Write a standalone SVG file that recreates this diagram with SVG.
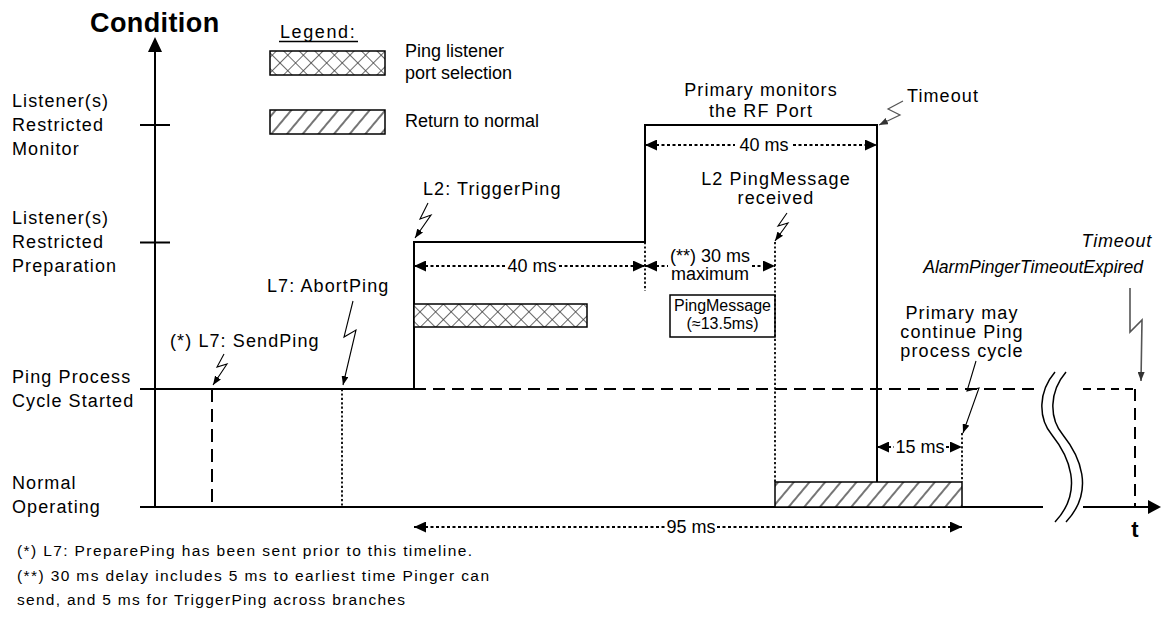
<svg xmlns="http://www.w3.org/2000/svg" width="1161" height="618" viewBox="0 0 1161 618">
<style>
text{font-family:"Liberation Sans",Arial,sans-serif;fill:#000}
.lbl{font-size:18px;letter-spacing:1.1px}
.dim{font-size:18px}
.leg{font-size:18px}
.box{font-size:16px}
.note{font-family:"Liberation Sans",Arial,sans-serif;font-size:15.5px}
.it{font-style:italic}
.solid{fill:none;stroke:#000;stroke-width:2}
.dash{fill:none;stroke:#000;stroke-width:2;stroke-dasharray:12 7}
.dot{fill:none;stroke:#000;stroke-width:1.8;stroke-dasharray:2.2 2.2}
.dimln{fill:none;stroke:#000;stroke-width:1.8;stroke-dasharray:3 2.5}
.bolt{fill:none;stroke:#000;stroke-width:1.1;stroke-linejoin:miter}
.gbolt{fill:none;stroke:#555;stroke-width:1.2}
</style>
<defs>
<marker id="ah" viewBox="0 0 12 11" refX="12" refY="5.5" markerWidth="12" markerHeight="11" markerUnits="userSpaceOnUse" orient="auto-start-reverse"><path d="M0,0 L12,5.5 L0,11 z" fill="#000"/></marker>
<marker id="ba" viewBox="0 0 9 7" refX="9" refY="3.5" markerWidth="9" markerHeight="7" markerUnits="userSpaceOnUse" orient="auto"><path d="M0,0 L9,3.5 L0,7 z" fill="#000"/></marker>
<marker id="bg" viewBox="0 0 9 7" refX="9" refY="3.5" markerWidth="9" markerHeight="7" markerUnits="userSpaceOnUse" orient="auto"><path d="M0,0 L9,3.5 L0,7 z" fill="#333"/></marker>
<pattern id="xh" patternUnits="userSpaceOnUse" width="11" height="11" patternTransform="rotate(45)"><rect width="11" height="11" fill="#fff"/><path d="M0,0 H11 M0,0 V11" stroke="#3a3a3a" stroke-width="1.5"/></pattern>
<pattern id="dh" patternUnits="userSpaceOnUse" width="12" height="12" patternTransform="rotate(40)"><rect width="12" height="12" fill="#fff"/><path d="M6,0 V12" stroke="#3a3a3a" stroke-width="1.4"/></pattern>
</defs>

<g id="axes">
<line x1="155" y1="50" x2="155" y2="507" class="solid"/>
<polygon points="148,52 155,37 162,52" fill="#000"/>
<line x1="140" y1="125" x2="170" y2="125" class="solid"/>
<line x1="140" y1="242.5" x2="170" y2="242.5" class="solid"/>
<line x1="140" y1="507" x2="1043" y2="507" class="solid"/>
<line x1="1083" y1="507" x2="1150" y2="507" class="solid"/>
<polygon points="1148,500 1161,507 1148,514" fill="#000"/>
<text x="90" y="32" style="font-size:27px;font-weight:bold;letter-spacing:0.4px">Condition</text>
<text x="1135" y="537" text-anchor="middle" style="font-size:22px;font-weight:bold">t</text>
</g>

<g id="y-labels" class="lbl">
<text x="12" y="107">Listener(s)</text>
<text x="12" y="131">Restricted</text>
<text x="12" y="155">Monitor</text>
<text x="12" y="224">Listener(s)</text>
<text x="12" y="248">Restricted</text>
<text x="12" y="272">Preparation</text>
<text x="12" y="383">Ping Process</text>
<text x="12" y="407">Cycle Started</text>
<text x="12" y="489">Normal</text>
<text x="12" y="513">Operating</text>
</g>

<g id="legend">
<text x="280" y="38" style="font-size:18px;letter-spacing:1.6px">Legend:</text>
<line x1="279" y1="41.5" x2="358" y2="41.5" stroke="#000" stroke-width="1.3"/>
<rect x="270" y="51" width="115" height="24" fill="url(#xh)" stroke="#000" stroke-width="1.5"/>
<rect x="270" y="110" width="115" height="24" fill="url(#dh)" stroke="#000" stroke-width="1.5"/>
<text class="leg" x="405" y="57">Ping listener</text>
<text class="leg" x="405" y="79">port selection</text>
<text class="leg" x="405" y="127">Return to normal</text>
</g>

<g id="condition-trace">
<path d="M140,389 H414 V242 H645 V125 H877 V483" class="solid"/>
<line x1="414" y1="389" x2="1040" y2="389" class="dash"/>
<line x1="1083" y1="389" x2="1135" y2="389" class="dash" style="stroke-dasharray:8 6"/>
<line x1="1135" y1="389" x2="1135" y2="507" class="dash"/>
</g>

<g id="bars">
<rect id="port-selection-bar" x="414" y="304" width="173" height="23" fill="url(#xh)" stroke="#000" stroke-width="1.5"/>
<rect id="return-normal-bar" x="775" y="482" width="187" height="25" fill="url(#dh)" stroke="#000" stroke-width="1.5"/>
</g>

<g id="ping-message-box">
<rect x="670" y="295" width="105" height="42" fill="#fff" stroke="#000" stroke-width="1.5"/>
<text class="box" x="722.5" y="311" text-anchor="middle">PingMessage</text>
<text class="box" x="722.5" y="329" text-anchor="middle">(≈13.5ms)</text>
</g>

<g id="connectors">
<line x1="212" y1="389" x2="212" y2="503" class="dash" style="stroke-dasharray:13 7"/>
<line x1="342" y1="389" x2="342" y2="507" class="dot"/>
<line x1="645" y1="242" x2="645" y2="291" class="dot"/>
<line x1="775" y1="242" x2="775" y2="482" class="dot"/>
<line x1="962" y1="433" x2="962" y2="482" class="dot"/>
<line x1="645" y1="145" x2="735" y2="145" class="dimln" marker-start="url(#ah)"/>
<line x1="793" y1="145" x2="877" y2="145" class="dimln" marker-end="url(#ah)"/>
<line x1="414" y1="266" x2="505" y2="266" class="dimln" marker-start="url(#ah)"/>
<line x1="559" y1="266" x2="645" y2="266" class="dimln" marker-end="url(#ah)"/>
<line x1="645" y1="266" x2="668" y2="266" class="dimln" marker-start="url(#ah)"/>
<line x1="752" y1="266" x2="775" y2="266" class="dimln" marker-end="url(#ah)"/>
<line x1="877" y1="447" x2="894" y2="447" class="dimln" marker-start="url(#ah)"/>
<line x1="946" y1="447" x2="962" y2="447" class="dimln" marker-end="url(#ah)"/>
<line x1="414" y1="527" x2="665" y2="527" class="dimln" marker-start="url(#ah)"/>
<line x1="717" y1="527" x2="962" y2="527" class="dimln" marker-end="url(#ah)"/>
<path d="M224,354 L217,367 L227,364 L213,385" class="bolt" marker-end="url(#ba)"/>
<path d="M353,301 L344,337 L356,330 L343,385" class="bolt" marker-end="url(#ba)"/>
<path d="M428,203 L420,219 L431,215 L415,238" class="bolt" marker-end="url(#ba)"/>
<path d="M787,213 L778,226 L788,223 L775,241" class="bolt" marker-end="url(#ba)"/>
<path d="M903,101 L888,109 L900,115 L879,125" class="gbolt" marker-end="url(#bg)"/>
<path d="M976,361 L967,391 L979,388 L963,433" class="bolt" marker-end="url(#ba)"/>
<path d="M1130,288 L1130,332 L1142,320 L1141,381" class="gbolt" style="stroke-width:1.6" marker-end="url(#bg)"/>
<path d="M1055,372 C1038,392 1038,418 1052,435 C1068,455 1085,490 1055,522" fill="none" stroke="#000" stroke-width="1.5"/>
<path d="M1066,372 C1049,392 1049,418 1063,435 C1079,455 1096,490 1066,522" fill="none" stroke="#000" stroke-width="1.5"/>
</g>

<g id="labels">
<text class="dim" x="764" y="151" text-anchor="middle">40 ms</text>
<text class="dim" x="532" y="272" text-anchor="middle">40 ms</text>
<text class="dim" x="710" y="262" text-anchor="middle">(**) 30 ms</text>
<text class="dim" x="710" y="280" text-anchor="middle">maximum</text>
<text class="dim" x="920" y="453" text-anchor="middle">15 ms</text>
<text class="dim" x="691" y="533" text-anchor="middle">95 ms</text>
<text class="lbl" x="761" y="96" text-anchor="middle">Primary monitors</text>
<text class="lbl" x="761" y="117" text-anchor="middle">the RF Port</text>
<text class="lbl" x="907" y="102">Timeout</text>
<text class="lbl" x="423" y="195">L2: TriggerPing</text>
<text class="lbl" x="776" y="185" text-anchor="middle">L2 PingMessage</text>
<text class="lbl" x="776" y="204" text-anchor="middle">received</text>
<text class="lbl" x="267" y="292">L7: AbortPing</text>
<text class="lbl" x="170" y="347">(*) L7: SendPing</text>
<text class="lbl" x="962" y="319" text-anchor="middle">Primary may</text>
<text class="lbl" x="962" y="338" text-anchor="middle">continue Ping</text>
<text class="lbl" x="962" y="357" text-anchor="middle">process cycle</text>
<text class="lbl it" x="1152" y="247" text-anchor="end" style="letter-spacing:0.8px">Timeout</text>
<text class="it" x="1143" y="273" text-anchor="end" style="font-size:17.6px">AlarmPingerTimeoutExpired</text>
</g>

<g id="footnotes">
<text class="note" x="17" y="556" textLength="455" lengthAdjust="spacing">(*) L7: PreparePing has been sent prior to this timeline.</text>
<text class="note" x="17" y="581" textLength="472" lengthAdjust="spacing">(**) 30 ms delay includes 5 ms to earliest time Pinger can</text>
<text class="note" x="17" y="605" textLength="388" lengthAdjust="spacing">send, and 5 ms for TriggerPing across branches</text>
</g>
</svg>
